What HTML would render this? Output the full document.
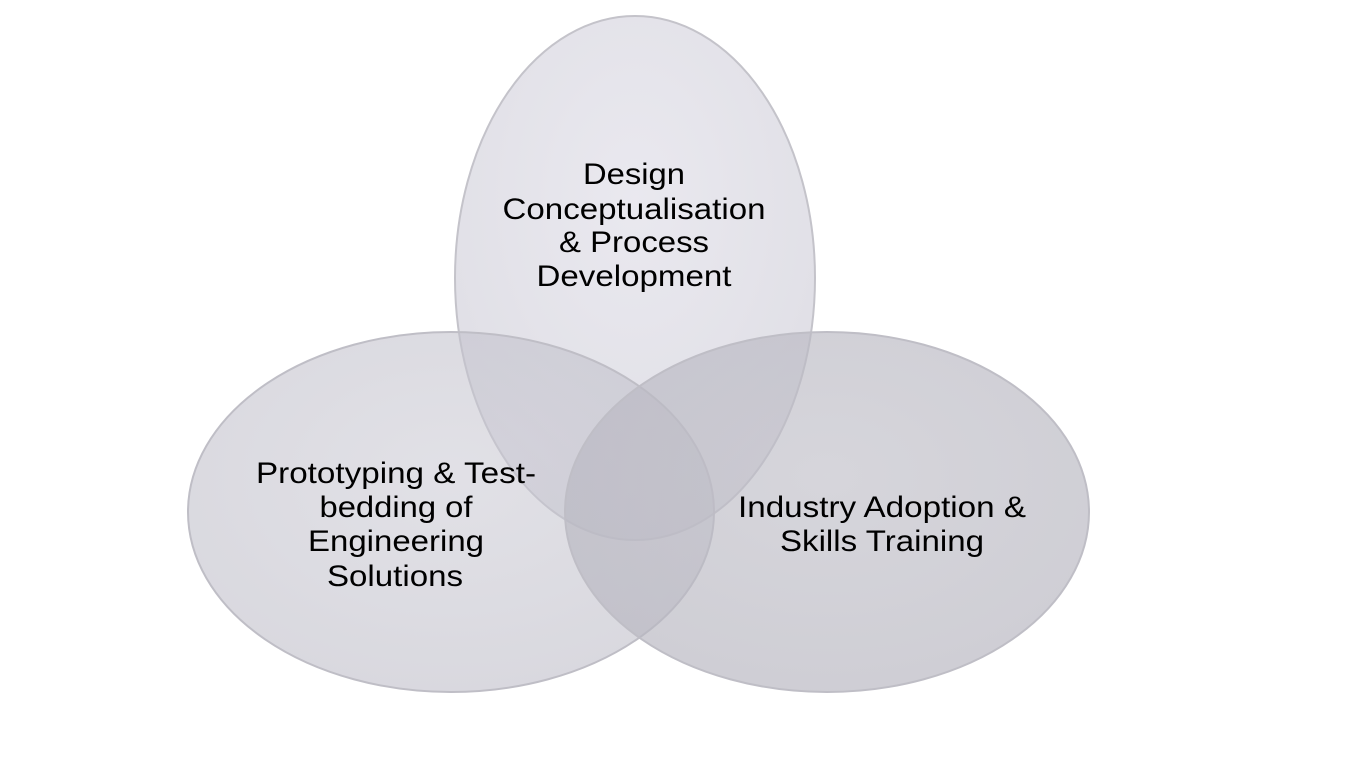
<!DOCTYPE html>
<html><head><style>
html,body{margin:0;padding:0;background:#fff;}
svg{display:block;}
text{font-family:"Liberation Sans",Arial,sans-serif;font-size:30px;fill:#000;text-anchor:middle;}
</style></head><body>
<svg width="1345" height="782" viewBox="0 0 1345 782">
<defs>
<radialGradient id="gt" cx="0.5" cy="0.35" r="0.7">
<stop offset="0" stop-color="#d8d6e2" stop-opacity="0.55"/>
<stop offset="1" stop-color="#c8c7d2" stop-opacity="0.6"/>
</radialGradient>
<radialGradient id="gl" cx="0.5" cy="0.4" r="0.7">
<stop offset="0" stop-color="#c9c8d2" stop-opacity="0.55"/>
<stop offset="1" stop-color="#bdbcc7" stop-opacity="0.6"/>
</radialGradient>
<radialGradient id="gr" cx="0.5" cy="0.4" r="0.7">
<stop offset="0" stop-color="#c0bfc8" stop-opacity="0.65"/>
<stop offset="1" stop-color="#b6b5bf" stop-opacity="0.68"/>
</radialGradient>
</defs>
<ellipse cx="635" cy="278" rx="180" ry="262" fill="url(#gt)" stroke="#c4c3ca" stroke-width="2"/>
<ellipse cx="451" cy="512" rx="263" ry="180" fill="url(#gl)" stroke="#bfbec6" stroke-width="2"/>
<ellipse cx="827" cy="512" rx="262" ry="180" fill="url(#gr)" stroke="#bfbec6" stroke-width="2"/>
<g lengthAdjust="spacingAndGlyphs">
<text x="634" y="184" textLength="102" lengthAdjust="spacingAndGlyphs">Design</text>
<text x="634" y="219" textLength="263" lengthAdjust="spacingAndGlyphs">Conceptualisation</text>
<text x="634" y="252" textLength="150" lengthAdjust="spacingAndGlyphs">&amp; Process</text>
<text x="634" y="286" textLength="195" lengthAdjust="spacingAndGlyphs">Development</text>
<text x="396" y="483" textLength="280" lengthAdjust="spacingAndGlyphs">Prototyping &amp; Test-</text>
<text x="396" y="517" textLength="153" lengthAdjust="spacingAndGlyphs">bedding of</text>
<text x="396" y="551" textLength="176" lengthAdjust="spacingAndGlyphs">Engineering</text>
<text x="395" y="586" textLength="136" lengthAdjust="spacingAndGlyphs">Solutions</text>
<text x="882" y="517" textLength="288" lengthAdjust="spacingAndGlyphs">Industry Adoption &amp;</text>
<text x="882" y="551" textLength="204" lengthAdjust="spacingAndGlyphs">Skills Training</text>
</g>
</svg>
</body></html>
